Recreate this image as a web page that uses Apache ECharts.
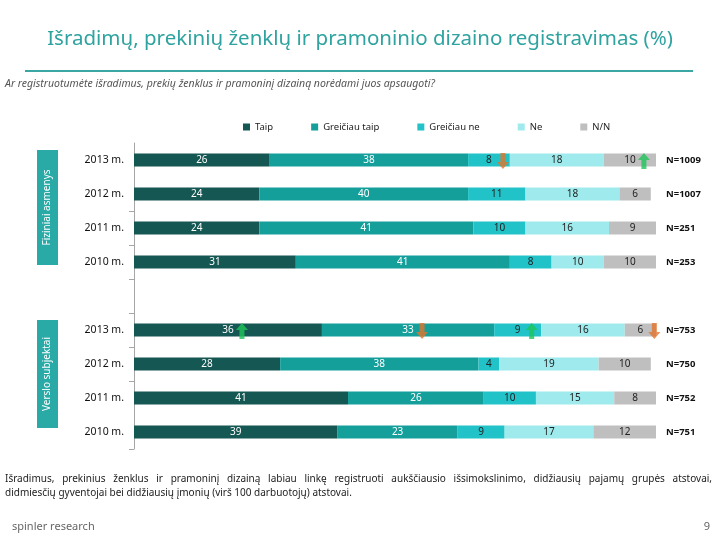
<!DOCTYPE html>
<html><head><meta charset="utf-8">
<script src="https://cdn.jsdelivr.net/npm/echarts@6/dist/echarts.min.js"></script>
<style>html,body{margin:0;padding:0;background:#fff}#c{width:720px;height:540px}</style>
</head><body><div id="c"></div>
<script>
// ---- data ----
var categories = ['2013 m.','2012 m.','2011 m.','2010 m.','','2013 m.','2012 m.','2011 m.','2010 m.'];
var sampleSizes = ['N=1009','N=1007','N=251','N=253','','N=753','N=750','N=752','N=751'];
var seriesNames = ['Taip','Greičiau taip','Greičiau ne','Ne','N/N'];
var taip         = [26,24,24,31,'-',36,28,41,39];
var greiciauTaip = [38,40,41,41,'-',33,38,26,23];
var greiciauNe   = [8,11,10,8,'-',9,4,10,9];
var ne           = [18,18,16,10,'-',16,19,15,17];
var nn           = [10,6,9,10,'-',6,10,8,12];
// change markers: [row index, series index, direction]
var markers = [[0,2,'down'],[0,4,'up'],[5,0,'up'],[5,1,'down'],[5,2,'up'],[5,4,'down']];
var groupNames = ['Fiziniai asmenys','Verslo subjektai'];
var title = 'Išradimų, prekinių ženklų ir pramoninio dizaino registravimas (%)';
var subtitle = 'Ar registruotumėte išradimus, prekių ženklus ir pramoninį dizainą norėdami juos apsaugoti?';
var footer1 = 'Išradimus, prekinius ženklus ir pramoninį dizainą labiau linkę registruoti aukščiausio išsimokslinimo, didžiausių pajamų grupės atstovai,';
var footer2 = 'didmiesčių gyventojai bei didžiausių įmonių (virš 100 darbuotojų) atstovai.';

var values = [taip, greiciauTaip, greiciauNe, ne, nn];
var colors = ['#155752','#159f9b','#22c3c8','#9eeaec','#bfbfbf'];
var labelColors = ['#fff','#fff','#222','#222','#222'];
var FONT = '"Noto Sans", "Open Sans", sans-serif';

var series = seriesNames.map(function(n,i){
  return {
    name:n, type:'bar', stack:'all', barWidth:13, data:values[i],
    itemStyle:{color:colors[i]},
    label:{show:true, position:'inside', color:labelColors[i], fontSize:10, fontFamily:FONT},
    emphasis:{disabled:true}
  };
});

var upPath = 'path://M6,0 L12,7 L8.5,7 L8.5,16 L3.5,16 L3.5,7 L0,7 Z';
var downPath = 'path://M3.5,0 L8.5,0 L8.5,9 L12,9 L6,16 L0,9 L3.5,9 Z';
var arrowData = markers.map(function(m){
  var r = m[0], s = m[1], start = 0;
  for (var k=0;k<s;k++) start += values[k][r];
  return {
    value:[start + values[s][r]/2, r],
    symbol: m[2]==='up' ? upPath : downPath,
    itemStyle:{color: m[2]==='up' ? '#1fc45a' : '#e2742a'}
  };
});
series.push({
  type:'scatter', data:arrowData, symbolSize:[12,16], symbolOffset:[14,1], z:5,
  silent:true, tooltip:{show:false}
});

// justified first footer line
var ctx = document.createElement('canvas').getContext('2d');
var footFont = '10px ' + FONT;
ctx.font = footFont;
var words = footer1.split(' ');
var totalW = 0; words.forEach(function(w){ totalW += ctx.measureText(w).width; });
var fx0 = 5, fx1 = 712;
var gap = (fx1 - fx0 - totalW) / (words.length - 1);
var footerEls = [];
var cx = fx0;
words.forEach(function(w){
  footerEls.push({type:'text', left:cx, top:474, style:{text:w, font:footFont, fill:'#222'}});
  cx += ctx.measureText(w).width + gap;
});
footerEls.push({type:'text', left:5, top:488, style:{text:footer2, font:footFont, fill:'#222'}});

var graphics = [
  {type:'line', shape:{x1:25,y1:71,x2:693,y2:71}, style:{stroke:'#3aa7a3', lineWidth:2}},
  {type:'text', left:5, top:79, style:{text:subtitle, font:'italic 10.5px '+FONT, fill:'#555'}},
  {type:'rect', shape:{x:37,y:150,width:21,height:115}, style:{fill:'#2aaaa6'}},
  {type:'text', x:47.5, y:207.5, rotation:Math.PI/2, style:{text:groupNames[0], font:'10px '+FONT, fill:'#fff', align:'center', verticalAlign:'middle'}},
  {type:'rect', shape:{x:37,y:320,width:21,height:108}, style:{fill:'#2aaaa6'}},
  {type:'text', x:47.5, y:374, rotation:Math.PI/2, style:{text:groupNames[1], font:'10px '+FONT, fill:'#fff', align:'center', verticalAlign:'middle'}},
  {type:'text', left:12, top:521, style:{text:'spinler research', font:'11px '+FONT, fill:'#666'}},
  {type:'text', right:10, top:521, style:{text:'9', font:'11px '+FONT, fill:'#666'}}
].concat(footerEls);

var chart = echarts.init(document.getElementById('c'), null, {renderer:'canvas'});
chart.setOption({
  animation:false,
  title:{text:title, left:'center', top:24, textStyle:{color:'#2ea39f', fontSize:20.5, fontWeight:'normal', fontFamily:FONT}},
  legend:{data:seriesNames, left:238, top:117, itemWidth:7, itemHeight:7, itemGap:38, icon:'rect',
    textStyle:{fontSize:9.5, color:'#222', fontFamily:FONT}},
  grid:{left:134, right:64, top:143, height:306},
  xAxis:{type:'value', min:0, max:100, show:false},
  yAxis:[
    {type:'category', data:categories, inverse:true,
     axisLine:{show:true, lineStyle:{color:'#a6a6a6'}},
     axisTick:{show:true, length:5, lineStyle:{color:'#a6a6a6'}, interval:function(i){return i>=2 && i<=7;}},
     axisLabel:{fontSize:10.5, color:'#111', margin:10, fontFamily:FONT}},
    {type:'category', data:sampleSizes, inverse:true, position:'right',
     axisLine:{show:false}, axisTick:{show:false},
     axisLabel:{fontSize:9.5, fontWeight:'bold', color:'#111', margin:10, fontFamily:FONT}}
  ],
  series:series,
  graphic:graphics
});
</script></body></html>
